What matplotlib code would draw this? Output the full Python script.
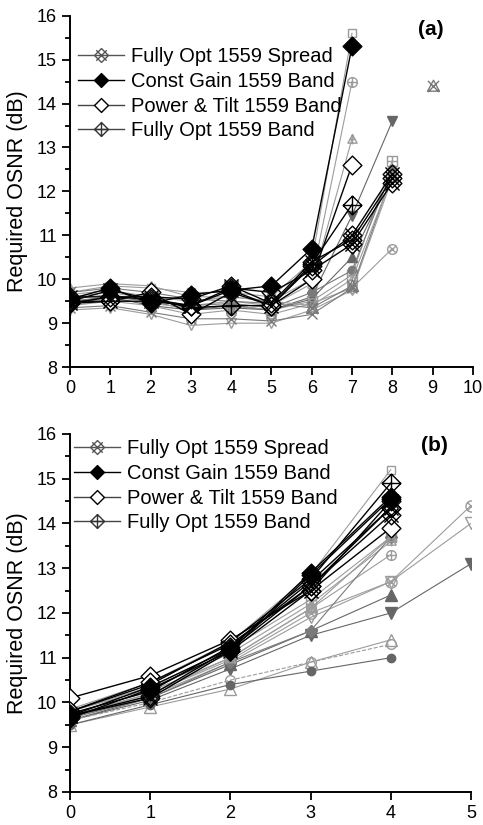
import numpy as np
import matplotlib
matplotlib.use('Agg')
import matplotlib.pyplot as plt
from matplotlib.path import Path
from matplotlib.lines import Line2D

plt.rcParams['font.family'] = ['Liberation Sans', 'DejaVu Sans']

# ---------------- data, panel (a) ----------------
a_const_gain = [9.55, 9.8, 9.45, 9.65, 9.75, 9.85, 10.7, 15.3]
a_spread_1 = [9.6, 9.6, 9.6, 9.55, 9.85, 9.45, 10.4, 10.9, 12.3]
a_spread_2 = [9.5, 9.75, 9.55, 9.4, 9.8, 9.7, 10.2, 10.8, 12.2]
a_spread_3 = [9.45, 9.5, 9.5, 9.4, 9.75, 9.4, 10.3, 11.0, 12.4]
a_power_tilt = [9.5, 9.5, 9.7, 9.2, 9.7, 9.4, 10.0, 12.6]
a_fully_band = [9.45, 9.6, 9.55, 9.35, 9.4, 9.4, 10.35, 11.7]

a_open_square = [9.7, 9.85, 9.8, 9.7, 9.7, 9.6, 10.4, 15.6]
a_circle_plus = [9.65, 9.75, 9.6, 9.5, 9.6, 9.5, 10.0, 14.5]
a_tri_plus = [9.6, 9.7, 9.55, 9.4, 9.5, 9.4, 9.9, 13.2]
a_filled_tri_down = [9.5, 9.6, 9.5, 9.3, 9.4, 9.3, 9.6, 11.45, 13.6]
a_square_plus = [9.5, 9.55, 9.45, 9.35, 9.4, 9.3, 9.5, 10.1, 12.7]
a_filled_tri_up = [9.45, 9.6, 9.4, 9.3, 9.35, 9.3, 9.55, 10.5, 12.4]
a_circle_x = [9.4, 9.5, 9.4, 9.2, 9.3, 9.2, 9.45, 9.8, 10.7]
a_open_tri_down = [9.3, 9.35, 9.2, 8.95, 9.0, 9.0, 9.3, 9.75, 12.3]
a_gray_x = [9.35, 9.4, 9.25, 9.1, 9.1, 9.05, 9.2, 9.8, 12.4]
a_filled_circle = [9.55, 9.65, 9.5, 9.4, 9.45, 9.35, 9.7, 10.2, 12.5]
a_open_tri = [9.8, 9.9, 9.85, 9.6, 9.6, 9.5, 9.4, 10.0, 12.35]
a_x_tri = [9.7, 9.8, 9.7, 9.55, 9.5, 9.45, 9.35, 9.85, np.nan, 14.4]

# ---------------- data, panel (b) ----------------
b_const_gain_1 = [9.7, 10.35, 11.2, 12.9, 14.6]
b_const_gain_2 = [9.65, 10.3, 11.15, 12.85, 14.55]
b_power_tilt_1 = [10.1, 10.6, 11.4, 12.5, 13.9]
b_power_tilt_2 = [9.8, 10.45, 11.3, 12.6, 14.35]
b_spread_1 = [9.7, 10.15, 11.2, 12.6, 14.2]
b_spread_2 = [9.75, 10.25, 11.25, 12.7, 14.35]
b_spread_3 = [9.7, 10.1, 11.15, 12.5, 14.5]
b_fully_band = [9.8, 10.4, 11.35, 12.75, 14.9]

b_open_square = [9.85, 10.45, 11.35, 12.85, 15.2]
b_tri_plus = [9.8, 10.3, 11.1, 12.2, 13.6]
b_circle_plus = [9.75, 10.25, 11.0, 12.1, 13.3]
b_square_plus = [9.8, 10.35, 11.2, 12.3, 13.7]
b_circle_x = [9.7, 10.2, 10.95, 12.0, 12.7, 14.4]
b_open_tri_down = [9.65, 10.15, 10.9, 11.9, 12.7, 14.0]
b_filled_tri_up = [9.6, 10.1, 10.85, 11.6, 12.4]
b_filled_tri_down = [9.6, 10.05, 10.75, 11.5, 12.0, 13.1]
b_filled_diamond = [9.65, 10.1, 10.9, 11.6, 13.7]
b_open_tri = [9.5, 9.9, 10.3, 10.9, 11.4]
b_open_circle = [9.6, 10.0, 10.5, 10.9, 11.3]
b_filled_circle = [9.5, 9.95, 10.4, 10.7, 11.0]
b_x_tri = [9.7, 10.2, 11.0, 12.1, 13.7]

legend_labels = ['Fully Opt 1559 Spread', 'Const Gain 1559 Band',
                 'Power & Tilt 1559 Band', 'Fully Opt 1559 Band']


# ---------------- custom markers ----------------
def seg(p0, p1):
    return Path([p0, p1], [Path.MOVETO, Path.LINETO])


diamond = Path([(0, 1), (1, 0), (0, -1), (-1, 0), (0, 1)], closed=True)
square = Path([(-0.8, -0.8), (0.8, -0.8), (0.8, 0.8), (-0.8, 0.8), (-0.8, -0.8)], closed=True)
tri_up = Path([(0, 1), (0.95, -0.75), (-0.95, -0.75), (0, 1)], closed=True)
circle = Path.unit_circle()
plus = [seg((-1, 0), (1, 0)), seg((0, -1), (0, 1))]
cross = [seg((-0.75, -0.75), (0.75, 0.75)), seg((-0.75, 0.75), (0.75, -0.75))]
cross_small = [seg((-0.7, -0.7), (0.7, 0.7)), seg((-0.7, 0.7), (0.7, -0.7))]

X_DIAMOND = Path.make_compound_path(diamond, *cross)
PLUS_DIAMOND = Path.make_compound_path(diamond, *plus)
PLUS_CIRCLE = Path.make_compound_path(circle, *plus)
X_CIRCLE = Path.make_compound_path(circle, *cross_small)
PLUS_SQUARE = Path.make_compound_path(square, seg((-0.8, 0), (0.8, 0)), seg((0, -0.8), (0, 0.8)))
PLUS_TRI = Path.make_compound_path(tri_up, seg((-0.6, 0), (0.6, 0)), seg((0, -1), (0, 1)))
X_TRI = Path.make_compound_path(tri_up, seg((-0.9, -0.9), (0.9, 0.9)), seg((-0.9, 0.9), (0.9, -0.9)))

LIGHT = '#9c9c9c'
MID = '#7a7a7a'
DARK = '#666666'


def draw(ax, values, marker, color, mfc, ms, lw, ls='-', z=2):
    values = np.asarray(values, dtype=float)
    x = np.arange(len(values))
    ax.plot(x, values, ls=ls, color=color, lw=lw, marker=marker, ms=ms,
            mfc=mfc, mec=color if mfc != 'black' else 'black', mew=1.0, zorder=z)


def draw_gray_a(ax):
    draw(ax, a_open_square, 's', LIGHT, 'none', 6, 0.8)
    draw(ax, a_circle_plus, PLUS_CIRCLE, LIGHT, 'none', 7, 0.8)
    draw(ax, a_tri_plus, PLUS_TRI, LIGHT, 'none', 7, 0.8)
    draw(ax, a_filled_tri_down, 'v', DARK, DARK, 7, 0.8)
    draw(ax, a_square_plus, PLUS_SQUARE, LIGHT, 'none', 7, 0.8)
    draw(ax, a_filled_tri_up, '^', DARK, DARK, 7, 0.8)
    draw(ax, a_circle_x, X_CIRCLE, LIGHT, 'none', 7, 0.8)
    draw(ax, a_open_tri_down, 'v', LIGHT, 'none', 7, 0.8)
    draw(ax, a_gray_x, 'x', MID, 'none', 7, 0.8)
    draw(ax, a_filled_circle, 'o', MID, MID, 6, 0.8)
    draw(ax, a_open_tri, '^', LIGHT, 'none', 7, 0.8)
    draw(ax, a_x_tri, X_TRI, MID, 'none', 9, 0.8)


def draw_gray_b(ax):
    draw(ax, b_open_square, 's', LIGHT, 'none', 6, 0.8)
    draw(ax, b_tri_plus, PLUS_TRI, LIGHT, 'none', 7, 0.8)
    draw(ax, b_circle_plus, PLUS_CIRCLE, LIGHT, 'none', 7, 0.8)
    draw(ax, b_square_plus, PLUS_SQUARE, LIGHT, 'none', 7, 0.8)
    draw(ax, b_circle_x, X_CIRCLE, LIGHT, 'none', 8, 0.8)
    draw(ax, b_open_tri_down, 'v', LIGHT, 'none', 8, 0.8)
    draw(ax, b_filled_tri_up, '^', DARK, DARK, 8, 0.8)
    draw(ax, b_filled_tri_down, 'v', DARK, DARK, 8, 0.8)
    draw(ax, b_filled_diamond, 'D', MID, MID, 6, 0.8)
    draw(ax, b_open_tri, '^', LIGHT, 'none', 8, 0.8)
    draw(ax, b_open_circle, 'o', LIGHT, 'none', 7, 0.8, ls='--')
    draw(ax, b_filled_circle, 'o', DARK, DARK, 6, 0.8)
    draw(ax, b_x_tri, X_TRI, LIGHT, 'none', 8, 0.8)


def style_axes(ax, xmax):
    ax.set_xlim(0, xmax)
    ax.set_ylim(8, 16)
    ax.set_xticks(range(0, xmax + 1))
    ax.set_yticks(range(8, 17))
    ax.set_yticks(np.arange(8.5, 16, 1.0), minor=True)
    for side in ['top', 'right']:
        ax.spines[side].set_visible(False)
    for side in ['left', 'bottom']:
        ax.spines[side].set_linewidth(1.4)
    ax.tick_params(axis='both', which='major', direction='out', length=6,
                   width=1.3, labelsize=13)
    ax.tick_params(axis='y', which='minor', direction='out', length=3.5, width=1.3)
    ax.set_ylabel('Required OSNR (dB)', fontsize=15.5, labelpad=6)


def add_legend(ax, anchor):
    handles = [
        Line2D([], [], color='#555555', lw=1.0, marker=X_DIAMOND, ms=10,
               mfc='none', mec='#555555'),
        Line2D([], [], color='black', lw=1.0, marker=diamond, ms=10,
               mfc='black', mec='black'),
        Line2D([], [], color='#444444', lw=1.0, marker=diamond, ms=10,
               mfc='white', mec='black'),
        Line2D([], [], color='#444444', lw=1.0, marker=PLUS_DIAMOND, ms=10,
               mfc='none', mec='#333333'),
    ]
    ax.legend(handles, legend_labels, loc='upper left', bbox_to_anchor=anchor,
              frameon=False, fontsize=14.5, handlelength=2.3, handletextpad=0.35,
              labelspacing=0.28, borderpad=0, borderaxespad=0)


fig = plt.figure(figsize=(4.83, 8.25), dpi=100)
ax_a = fig.add_axes([0.145, 0.555, 0.834, 0.426])
ax_b = fig.add_axes([0.145, 0.040, 0.830, 0.434])

# panel (a)
draw_gray_a(ax_a)
draw(ax_a, a_fully_band, PLUS_DIAMOND, 'black', 'none', 13.5, 1.0, z=3)
draw(ax_a, a_power_tilt, diamond, 'black', 'white', 13.5, 1.0, z=3)
draw(ax_a, a_spread_1, X_DIAMOND, 'black', 'none', 13.5, 1.0, z=3)
draw(ax_a, a_spread_2, X_DIAMOND, 'black', 'none', 13.5, 1.0, z=3)
draw(ax_a, a_spread_3, X_DIAMOND, 'black', 'none', 13.5, 1.0, z=3)
draw(ax_a, a_const_gain, diamond, 'black', 'black', 13.5, 1.0, z=4)
style_axes(ax_a, 10)
add_legend(ax_a, (0.02, 0.91))
ax_a.text(8.95, 15.68, '(a)', fontsize=15, fontweight='bold', ha='center', va='center')

# panel (b)
draw_gray_b(ax_b)
draw(ax_b, b_fully_band, PLUS_DIAMOND, 'black', 'none', 13.5, 1.0, z=3)
draw(ax_b, b_power_tilt_1, diamond, 'black', 'white', 13.5, 1.0, z=3)
draw(ax_b, b_power_tilt_2, diamond, 'black', 'white', 13.5, 1.0, z=3)
draw(ax_b, b_spread_1, X_DIAMOND, 'black', 'none', 13.5, 1.0, z=3)
draw(ax_b, b_spread_2, X_DIAMOND, 'black', 'none', 13.5, 1.0, z=3)
draw(ax_b, b_spread_3, X_DIAMOND, 'black', 'none', 13.5, 1.0, z=3)
draw(ax_b, b_const_gain_1, diamond, 'black', 'black', 13.5, 1.0, z=4)
draw(ax_b, b_const_gain_2, diamond, 'black', 'black', 13.5, 1.0, z=4)
style_axes(ax_b, 5)
add_legend(ax_b, (0.01, 0.985))
ax_b.text(4.54, 15.75, '(b)', fontsize=15, fontweight='bold', ha='center', va='center')

fig.savefig('out.png', dpi=100)
